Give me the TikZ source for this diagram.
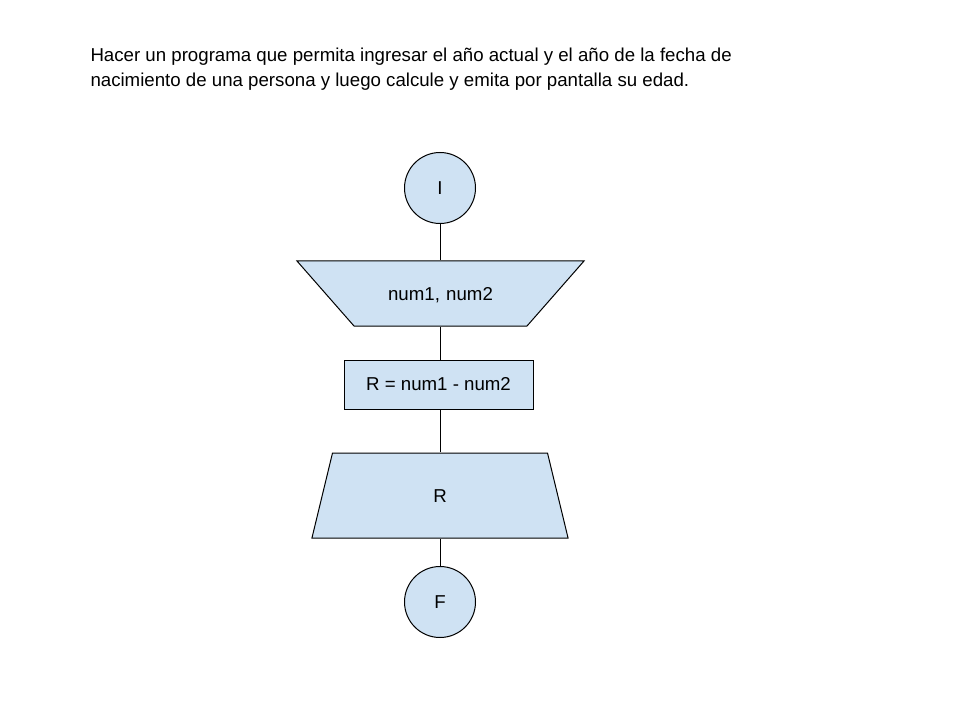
\documentclass[tikz,border=0pt]{standalone}
\usepackage{fontspec}
\setmainfont{Liberation Sans}
\usepackage{xcolor}
\usetikzlibrary{shapes.geometric, positioning}
\definecolor{boxblue}{HTML}{CFE2F3}

\begin{document}
\begin{tikzpicture}[x=0.75pt, y=-0.75pt, line width=0.75pt,
    every node/.style={font=\fontsize{14}{16.8}\selectfont},
    term/.style={circle, draw, fill=boxblue, minimum size=53.25pt, inner sep=0},
    io/.style={trapezium, draw, fill=boxblue, text width=100pt, align=center, text height=10pt, text depth=0pt},
    proc/.style={rectangle, draw, fill=boxblue, minimum width=141.75pt, minimum height=36.75pt, inner sep=0}]
        \useasboundingbox (0,0) rectangle (960,720);

        \node[anchor=base west, inner sep=0] (t1) at (90,62) {Hacer un programa que permita ingresar el año actual y el año de la fecha de};
        \node[anchor=base west, inner sep=0] (t2) at (90,86.5) {nacimiento de una persona y luego calcule y emita por pantalla su edad.};

        \node[term] (ini) at (440,188) {I};
        \node[io, shape border rotate=180, trapezium angle=48.75, inner xsep=14.875pt, inner ysep=19.375pt] (in) at (440.5,293.5) {num1, num2};
        \node[proc] (calc) at (438.5,384.5) {R = num1 - num2};
        \node[io, trapezium angle=76.4, inner xsep=30.625pt, inner ysep=26.875pt] (out) at (440,495.5) {R};
        \node[term] (fin) at (440,602) {F};

        \draw (ini.south) -- (in.north -| ini.south);
        \draw (in.south -| ini.south) -- (calc.north -| ini.south);
        \draw (calc.south -| ini.south) -- (out.north -| ini.south);
        \draw (out.south -| fin.north) -- (fin.north);
      \end{tikzpicture}
\end{document}
